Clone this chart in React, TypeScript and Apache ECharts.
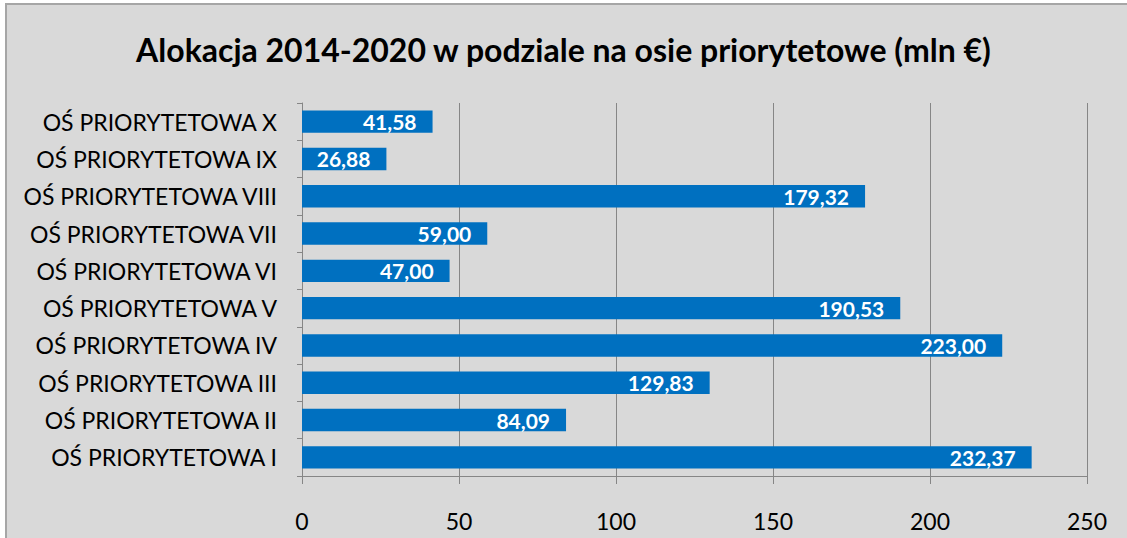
import React, { useEffect, useRef } from "react";
import * as echarts from "echarts";

const categories = [
  "OŚ PRIORYTETOWA I",
  "OŚ PRIORYTETOWA II",
  "OŚ PRIORYTETOWA III",
  "OŚ PRIORYTETOWA IV",
  "OŚ PRIORYTETOWA V",
  "OŚ PRIORYTETOWA VI",
  "OŚ PRIORYTETOWA VII",
  "OŚ PRIORYTETOWA VIII",
  "OŚ PRIORYTETOWA IX",
  "OŚ PRIORYTETOWA X",
];
const values = [232.37, 84.09, 129.83, 223.0, 190.53, 47.0, 59.0, 179.32, 26.88, 41.58];
const titleText = "Alokacja 2014-2020 w podziale na osie priorytetowe (mln €)";

const FONT = "Lato, 'Open Sans', sans-serif";

export default function App() {
  const ref = useRef<HTMLDivElement>(null);
  useEffect(() => {
    if (!ref.current) return;
    const chart = echarts.init(ref.current, null, { renderer: "svg" });
    chart.setOption({
      animation: false,
      backgroundColor: "#ffffff",
      graphic: [
        {
          type: "rect",
          z: -10,
          silent: true,
          shape: { x: 6, y: 4, width: 1140, height: 560 },
          style: { fill: "#d9d9d9", stroke: "#a6a6a6", lineWidth: 2 },
        },
      ],
      title: {
        text: titleText,
        left: "center",
        top: 28,
        textStyle: { fontFamily: FONT, fontSize: 32, fontWeight: "bold", color: "#000" },
      },
      grid: { left: 302, right: 40, top: 103, bottom: 62, containLabel: false },
      xAxis: {
        type: "value",
        min: 0,
        max: 250,
        interval: 50,
        axisLine: { show: true, lineStyle: { color: "#868686", width: 1 } },
        axisTick: { show: true, length: 8, lineStyle: { color: "#868686" } },
        splitLine: { show: true, lineStyle: { color: "#868686", width: 1 } },
        axisLabel: { fontFamily: FONT, fontSize: 23, color: "#000", margin: 33 },
      },
      yAxis: {
        type: "category",
        data: categories,
        axisLine: { show: true, lineStyle: { color: "#868686", width: 1 } },
        axisTick: { show: true, length: 5, lineStyle: { color: "#868686" } },
        axisLabel: { fontFamily: FONT, fontSize: 23, color: "#000", margin: 25 },
      },
      series: [
        {
          type: "bar",
          data: values,
          barCategoryGap: "40%",
          itemStyle: { color: "#0070c0" },
          label: {
            show: true,
            position: "insideRight",
            distance: 16,
            fontFamily: FONT,
            fontSize: 21,
            fontWeight: "bold",
            color: "#fff",
            formatter: (p: any) => p.value.toFixed(2).replace(".", ","),
          },
        },
      ],
    });
    return () => chart.dispose();
  }, []);
  return (
    <div
      ref={ref}
      style={{ position: "fixed", left: 0, top: 0, width: 1127, height: 538 }}
    />
  );
}
